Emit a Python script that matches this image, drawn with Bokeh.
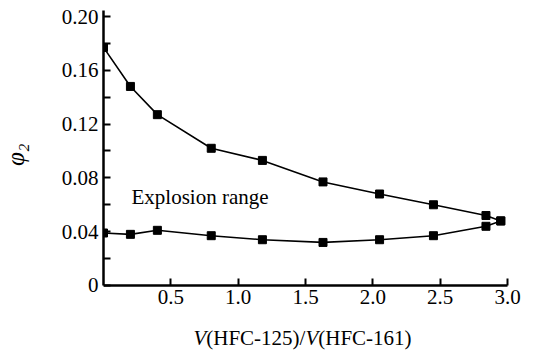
from bokeh.plotting import figure
from bokeh.models import Range1d, FixedTicker, Label, Title
from bokeh.embed import file_html
from bokeh.resources import INLINE

# data
ratio = [0, 0.2, 0.4, 0.8, 1.18, 1.63, 2.05, 2.45, 2.84, 2.95]
upper = [0.177, 0.148, 0.127, 0.102, 0.093, 0.077, 0.068, 0.060, 0.052, 0.048]
lower = [0.039, 0.038, 0.041, 0.037, 0.034, 0.032, 0.034, 0.037, 0.044, 0.048]

x_ticks = [0.5, 1.0, 1.5, 2.0, 2.5, 3.0]
x_tick_labels = ["0.5", "1.0", "1.5", "2.0", "2.5", "3.0"]
y_ticks = [0, 0.04, 0.08, 0.12, 0.16, 0.20]
y_tick_labels = ["0", "0.04", "0.08", "0.12", "0.16", "0.20"]
y_minor = [0.02, 0.06, 0.10, 0.14, 0.18]

FONT = "Liberation Serif"
FS = "21px"

# frame extends below y=0 and right of x=3 so that the x-axis (fixed at y=0)
# and the x-axis title labels are not clipped
p = figure(width=534, height=353, output_backend="svg", toolbar_location=None,
           x_range=Range1d(0, 3.2004), y_range=Range1d(-0.0506, 0.2119),
           min_border_left=103, min_border_right=0, min_border_top=0,
           min_border_bottom=0)
p.outline_line_color = None
p.grid.visible = False
p.background_fill_color = "white"
p.border_fill_color = "white"

for ax in (p.xaxis[0], p.yaxis[0]):
    ax.axis_line_width = 2.5
    ax.axis_line_color = "black"
    ax.major_tick_in = 7
    ax.major_tick_out = 0
    ax.minor_tick_in = 7
    ax.minor_tick_out = 0
    ax.major_tick_line_width = 2
    ax.minor_tick_line_width = 2
    ax.major_tick_line_color = "black"
    ax.minor_tick_line_color = "black"
    ax.major_label_text_font = FONT
    ax.major_label_text_font_size = FS
    ax.major_label_text_color = "black"
    ax.major_label_standoff = 5

p.xaxis[0].fixed_location = 0
p.xaxis[0].bounds = (0, 3.0)
p.xaxis[0].ticker = FixedTicker(ticks=x_ticks, minor_ticks=[])
p.xaxis[0].major_label_overrides = dict(zip(x_ticks, x_tick_labels))
p.yaxis[0].bounds = (0, 0.2045)
p.yaxis[0].ticker = FixedTicker(ticks=y_ticks, minor_ticks=y_minor)
p.yaxis[0].major_label_overrides = dict(zip(y_ticks, y_tick_labels))

# y-axis title (trailing empty line pushes it away from the tick labels)
p.add_layout(Title(text="φ₂\n", align="right", offset=143, standoff=2,
                   vertical_align="top",
                   text_font=FONT, text_font_style="italic",
                   text_font_size="25px", text_color="black"), "left")

for ys in (upper, lower):
    p.line(ratio, ys, line_color="black", line_width=1.6)
    p.scatter(ratio, ys, marker="square", size=8, fill_color="black",
              line_color="black")

p.add_layout(Label(x=0.208, y=0.066, text="Explosion range", text_font=FONT,
                   text_font_size=FS, text_baseline="middle",
                   text_color="black"))

# x-axis title in pieces (italic V)
pieces = [("V", "italic", 0), ("(HFC-125)/", "normal", 12.8),
          ("V", "italic", 112), ("(HFC-161)", "normal", 124.8)]
for txt, style, off in pieces:
    p.add_layout(Label(x=0.668, y=-0.0394, x_offset=off, text=txt,
                       text_font=FONT, text_font_size=FS,
                       text_font_style=style, text_baseline="middle",
                       text_align="left", text_color="black"))

open("out.html", "w").write(file_html(p, INLINE))
